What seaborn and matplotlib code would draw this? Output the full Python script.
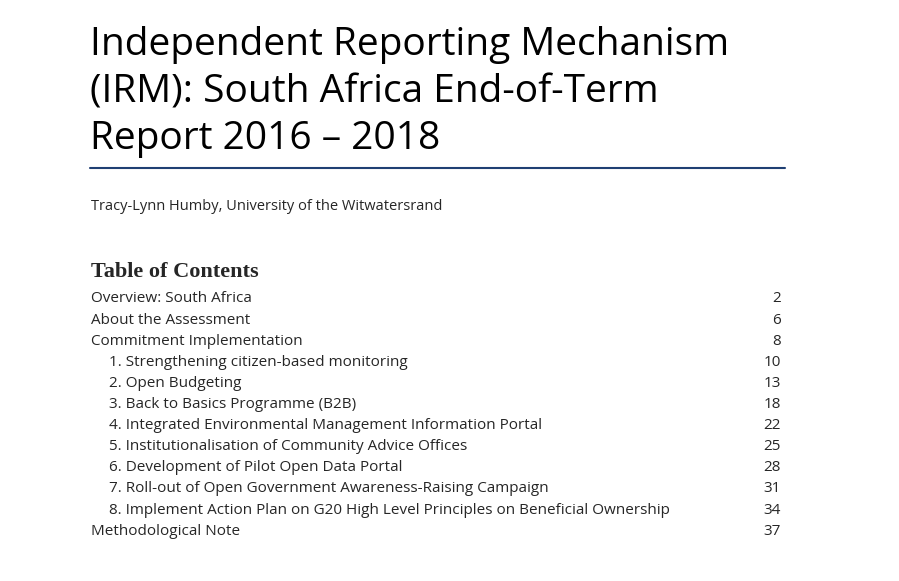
import matplotlib
matplotlib.use("Agg")
import matplotlib.pyplot as plt
import seaborn as sns

title_lines = ["Independent Reporting Mechanism",
               "(IRM): South Africa End-of-Term",
               "Report 2016 – 2018"]
author = "Tracy-Lynn Humby, University of the Witwatersrand"
toc_heading = "Table of Contents"
entries = ["Overview: South Africa",
           "About the Assessment",
           "Commitment Implementation",
           "1. Strengthening citizen-based monitoring",
           "2. Open Budgeting",
           "3. Back to Basics Programme (B2B)",
           "4. Integrated Environmental Management Information Portal",
           "5. Institutionalisation of Community Advice Offices",
           "6. Development of Pilot Open Data Portal",
           "7. Roll-out of Open Government Awareness-Raising Campaign",
           "8. Implement Action Plan on G20 High Level Principles on Beneficial Ownership",
           "Methodological Note"]
pages = [2, 6, 8, 10, 13, 18, 22, 25, 28, 31, 34, 37]
indented = [False, False, False] + [True] * 8 + [False]

sns.set_style("white")
plt.rcParams['font.family'] = ['Open Sans', 'DejaVu Sans']

fig = plt.figure(figsize=(8.99, 5.81), dpi=100)
ax = fig.add_axes([0, 0, 1, 1])
ax.set_xlim(0, 899)
ax.set_ylim(581, 0)
ax.axis("off")

for i, line in enumerate(title_lines):
    ax.text(90, 45 + i * 47, line, fontsize=28, va="center", ha="left", color="black")
ax.plot([90, 785], [168, 168], color="#1f3f73", lw=1.5)

ax.text(91, 207, author, fontsize=10.5, va="center", ha="left")
ax.text(91, 272, toc_heading, fontsize=16, fontweight="bold",
        family=["Liberation Serif", "DejaVu Serif"], va="center", ha="left")

for i, (name, pg, ind) in enumerate(zip(entries, pages, indented)):
    y = 299 + i * 21.1
    ax.text(109 if ind else 91, y, name, fontsize=11, va="center", ha="left")
    ax.text(781, y, str(pg), fontsize=11, va="center", ha="right")

fig.savefig("out.png", dpi=100, facecolor="white")
